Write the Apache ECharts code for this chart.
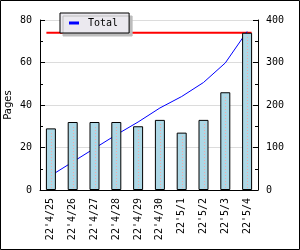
<!DOCTYPE html>
<html>
<head>
<meta charset="utf-8">
<script src="https://cdn.jsdelivr.net/npm/echarts@6/dist/echarts.min.js"></script>
<style>html,body{margin:0;padding:0;background:#fff}#c{width:300px;height:250px}</style>
</head>
<body>
<div id="c"></div>
<script>
const categories = ["22'4/25","22'4/26","22'4/27","22'4/28","22'4/29","22'4/30","22'5/1","22'5/2","22'5/3","22'5/4"];
const pages = [29, 32, 32, 32, 30, 33, 27, 33, 46, 74];
const total = [34, 66, 98, 130, 160, 193, 220, 253, 299, 373];
const leftTicks = [0, 20, 40, 60, 80];
const rightTicks = [0, 100, 200, 300, 400];
const refLine = [74];

const BAR_W = 9;
const mono = 'DejaVu Sans Mono';
const chart = echarts.init(document.getElementById('c'), null, {renderer: 'canvas'});
const barData = pages.map((v, i) => [i, v]);

chart.setOption({
  animation: false,
  backgroundColor: '#ffffff',
  textStyle: {fontFamily: mono},
  graphic: [{
    type: 'rect', shape: {x: 0.5, y: 0.5, width: 299, height: 249},
    style: {fill: 'none', stroke: '#000', lineWidth: 1}, z: 100
  }],
  legend: {
    left: 60, top: 13,
    data: [{name: 'Total', icon: 'rect'}],
    itemWidth: 10, itemHeight: 3,
    padding: [5, 11, 5, 9],
    backgroundColor: '#ebe9ef',
    borderColor: '#000', borderWidth: 1,
    shadowColor: '#bdbdbd', shadowOffsetX: 3, shadowOffsetY: 3, shadowBlur: 0,
    textStyle: {fontFamily: mono, fontSize: 10, color: '#000', padding: [0, 0, 0, 4]}
  },
  grid: {left: 40, top: 20, width: 218, height: 170, containLabel: false, outerBoundsMode: 'none'},
  xAxis: {
    type: 'category', data: categories,
    axisLine: {lineStyle: {color: '#000', width: 1}},
    axisTick: {inside: true, length: 5, lineStyle: {color: '#000'}},
    axisLabel: {rotate: 90, margin: 8, fontFamily: mono, fontSize: 10, color: '#000', interval: 0},
    splitLine: {show: false}
  },
  yAxis: [{
    type: 'value', min: leftTicks[0], max: leftTicks[leftTicks.length - 1], interval: 20,
    name: 'Pages', nameLocation: 'middle', nameGap: 27, nameRotate: 90, nameMoveOverlap: false,
    nameTextStyle: {fontFamily: 'DejaVu Sans', fontSize: 10, color: '#000'},
    axisLine: {show: true, lineStyle: {color: '#000'}},
    axisTick: {show: true, inside: true, length: 5, lineStyle: {color: '#000'}},
    minorTick: {show: true, splitNumber: 2, length: 3, lineStyle: {color: '#000'}},
    axisLabel: {margin: 8, fontFamily: mono, fontSize: 10, color: '#000'},
    splitLine: {show: true, lineStyle: {color: '#dcdcdc', width: 1}}
  }, {
    type: 'value', min: rightTicks[0], max: rightTicks[rightTicks.length - 1], interval: 100,
    position: 'right',
    axisLine: {show: true, lineStyle: {color: '#000'}},
    axisTick: {show: true, inside: true, length: 5, lineStyle: {color: '#000'}},
    minorTick: {show: true, splitNumber: 2, length: 3, lineStyle: {color: '#000'}},
    axisLabel: {margin: 8, fontFamily: mono, fontSize: 10, color: '#000'},
    splitLine: {show: false}
  }],
  series: [{
    name: 'Total', type: 'line', yAxisIndex: 1, data: total,
    showSymbol: false, symbol: 'none',
    lineStyle: {color: '#0000ff', width: 1}, itemStyle: {color: '#0000ff'},
    z: 2
  }, {
    name: 'ref', type: 'custom', yAxisIndex: 0,
    data: refLine.map(v => [0, v]),
    renderItem: function (params, api) {
      const y = api.value(1);
      const a = api.coord([0, y]);
      const b = api.coord([categories.length - 1, y]);
      return {type: 'line', shape: {x1: a[0] - BAR_W / 2, y1: a[1], x2: b[0] + BAR_W / 2, y2: b[1]},
        style: {stroke: '#ff0000', lineWidth: 2}};
    },
    z: 2, silent: true
  }, {
    name: 'Pages', type: 'bar', yAxisIndex: 0, data: pages,
    barWidth: BAR_W + 1,
    itemStyle: {color: '#add8e6', borderColor: '#000', borderWidth: 1},
    z: 3
  }, {
    name: 'dots', type: 'custom', yAxisIndex: 0,
    data: barData,
    renderItem: function (params, api) {
      const p0 = api.coord([api.value(0), 0]);
      const p1 = api.coord([api.value(0), api.value(1)]);
      return {type: 'line', shape: {x1: Math.round(p0[0]) + 0.5, y1: p0[1] - 2, x2: Math.round(p1[0]) + 0.5, y2: p1[1] + 3},
        style: {stroke: '#f4a8a8', lineWidth: 1, lineDash: [1, 2]}};
    },
    z: 4, silent: true
  }]
});
</script>
</body>
</html>
